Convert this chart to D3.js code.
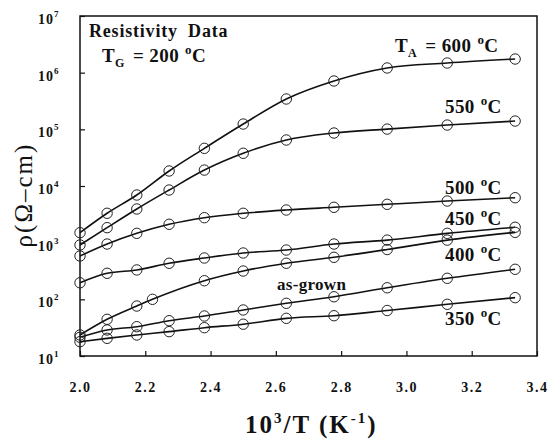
<!DOCTYPE html>
<html>
<head>
<meta charset="utf-8">
<script src="https://cdn.jsdelivr.net/npm/d3@7/dist/d3.min.js"></script>
<style>
  body { margin: 0; background: #fff; }
  svg text { font-family: "Liberation Serif", "Times New Roman", serif; font-weight: bold; fill: #111; }
</style>
</head>
<body>
<div id="chart"></div>
<script>
// 1000/T for the measurement temperatures (500 K down to 300 K)
var invT = [2.0, 2.083, 2.174, 2.273, 2.381, 2.5, 2.632, 2.778, 2.941, 3.125, 3.333];
// the 400 C sample has a point at 450 K instead of 440 K
var invT400 = [2.0, 2.083, 2.174, 2.222, 2.381, 2.5, 2.632, 2.778, 2.941, 3.125, 3.333];

var rho600 = [1500, 3300, 6930, 18400, 46200, 124000, 343000, 713000, 1210000, 1480000, 1740000];
var rho550 = [910, 1840, 3930, 8490, 19100, 37800, 64800, 86100, 101000, 119000, 140000];
var rho500 = [582, 946, 1460, 2110, 2760, 3300, 3770, 4210, 4750, 5430, 6210];
var rho450 = [196, 288, 330, 433, 536, 657, 741, 946, 1110, 1460, 1870];
var rho400 = [23.5, 44.4, 76.2, 100, 213, 316, 433, 552, 757, 1110, 1520];
var rhoAsGrown = [21.4, 28.8, 32.9, 42.0, 50.8, 64.9, 85.1, 111, 160, 235, 339];
var rho350 = [17.9, 20.5, 23.5, 26.9, 31.6, 36.4, 46.2, 51.4, 63.5, 81.7, 107];

var xTicks = [2.0, 2.2, 2.4, 2.6, 2.8, 3.0, 3.2, 3.4];
var yTicks = [1e1, 1e2, 1e3, 1e4, 1e5, 1e6, 1e7];

var series = [
  {name: "600", xs: invT, ys: rho600},
  {name: "550", xs: invT, ys: rho550},
  {name: "500", xs: invT, ys: rho500},
  {name: "450", xs: invT, ys: rho450},
  {name: "400", xs: invT400, ys: rho400},
  {name: "as-grown", xs: invT, ys: rhoAsGrown},
  {name: "350", xs: invT, ys: rho350}
];

var width = 550, height = 443;
var plotL = 80, plotR = 537, plotT = 16, plotB = 356;

var svg = d3.select("#chart").append("svg")
  .attr("width", width)
  .attr("height", height);

var x = d3.scaleLinear().domain([2.0, 3.4]).range([plotL, plotR]);
var y = d3.scaleLog().domain([1e1, 1e7]).range([plotB, plotT]);

// frame
svg.append("rect")
  .attr("x", plotL).attr("y", plotT)
  .attr("width", plotR - plotL).attr("height", plotB - plotT)
  .attr("fill", "none")
  .attr("stroke", "#111")
  .attr("stroke-width", 1.5);

// x axis, ticks pointing inward
var xAxis = svg.append("g")
  .attr("transform", "translate(0," + plotB + ")")
  .call(d3.axisBottom(x).tickValues(xTicks).tickFormat(d3.format(".1f"))
    .tickSize(-5).tickPadding(26));
xAxis.select(".domain").remove();
xAxis.selectAll("line").attr("stroke", "#111").attr("stroke-width", 1.2);
xAxis.selectAll("text")
  .attr("font-size", 14)
  .attr("letter-spacing", 1.5)
  .style("font-family", "Liberation Serif, serif")
  .style("font-weight", "bold");

// y axis, ticks pointing inward, labels as 10^n
var yAxis = svg.append("g")
  .attr("transform", "translate(" + plotL + ",0)")
  .call(d3.axisLeft(y).tickValues(yTicks).tickFormat("").tickSize(-5));
yAxis.select(".domain").remove();
yAxis.selectAll("line").attr("stroke", "#111").attr("stroke-width", 1.2);

yTicks.forEach(function(v) {
  var t = svg.append("text")
    .attr("x", 38)
    .attr("y", y(v) + 8)
    .attr("font-size", 14)
    .attr("letter-spacing", 1);
  t.append("tspan").text("10");
  t.append("tspan")
    .attr("font-size", 9)
    .attr("dy", -7)
    .text(Math.round(Math.log10(v)));
});

// curves
var line = d3.line()
  .x(function(d) { return x(d[0]); })
  .y(function(d) { return y(d[1]); })
  .curve(d3.curveMonotoneX);

series.forEach(function(s) {
  var pts = s.xs.map(function(xv, i) { return [xv, s.ys[i]]; });
  svg.append("path")
    .datum(pts)
    .attr("d", line)
    .attr("fill", "none")
    .attr("stroke", "#111")
    .attr("stroke-width", 1.6);
  svg.selectAll(null)
    .data(pts)
    .enter().append("circle")
    .attr("cx", function(d) { return x(d[0]); })
    .attr("cy", function(d) { return y(d[1]); })
    .attr("r", 5.2)
    .attr("fill", "none")
    .attr("stroke", "#222")
    .attr("stroke-width", 1);
});

// degree-style label helper: "NNN °C"
function tempLabel(tx, ty, prefix, num) {
  var t = svg.append("text")
    .attr("x", tx).attr("y", ty)
    .attr("font-size", 19)
    .attr("letter-spacing", 0.4);
  if (prefix) {
    t.append("tspan").text("T");
    t.append("tspan").attr("font-size", 12).attr("dy", 5).text(prefix);
    t.append("tspan").attr("dy", -5).attr("dx", 3).text(" = " + num);
  } else {
    t.append("tspan").text(num);
  }
  t.append("tspan").attr("font-size", 13).attr("dy", -8).attr("dx", 6).text("o");
  t.append("tspan").attr("dy", 8).text("C");
  return t;
}

// annotation
svg.append("text")
  .attr("x", 89).attr("y", 37)
  .attr("font-size", 18)
  .attr("letter-spacing", 0.8)
  .attr("word-spacing", 5)
  .text("Resistivity Data");
tempLabel(102, 62, "G", "200");

tempLabel(395, 52, "A", "600");
tempLabel(445, 113, null, "550");
tempLabel(445, 194, null, "500");
tempLabel(445, 225, null, "450");
tempLabel(445, 261, null, "400");
tempLabel(445, 325, null, "350");

svg.append("text")
  .attr("x", 277).attr("y", 290)
  .attr("font-size", 17)
  .attr("letter-spacing", 0.3)
  .text("as-grown");

// axis titles
var xt = svg.append("text")
  .attr("x", 245).attr("y", 433)
  .attr("font-size", 25)
  .attr("letter-spacing", 2);
xt.append("tspan").text("10");
xt.append("tspan").attr("font-size", 15).attr("dy", -10).text("3");
xt.append("tspan").attr("dy", 10).text("/T (K");
xt.append("tspan").attr("font-size", 15).attr("dy", -10).text("-1");
xt.append("tspan").attr("dy", 10).text(")");

svg.append("text")
  .attr("transform", "translate(32,195) rotate(-90)")
  .attr("text-anchor", "middle")
  .attr("font-size", 25)
  .attr("letter-spacing", 2)
  .style("font-weight", "normal")
  .text("\u03c1(\u03a9\u2013cm)");
</script>
</body>
</html>
